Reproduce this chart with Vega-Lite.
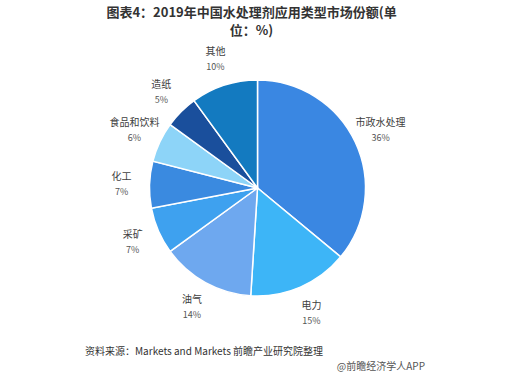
{
  "$schema": "https://vega.github.io/schema/vega-lite/v6.json",
  "background": "white",
  "padding": {"left": 5, "top": 7, "right": 0, "bottom": 0},
  "config": {"view": {"stroke": null}, "font": "Noto Sans CJK SC", "concat": {"spacing": 0}},
  "title": {"text": "@前瞻经济学人APP", "orient": "bottom", "anchor": "end", "frame": "group", "dx": -85, "fontSize": 10, "fontWeight": "normal", "color": "#555555", "offset": 5},
  "vconcat": [
    {
      "title": {"text": "资料来源：Markets and Markets 前瞻产业研究院整理", "orient": "bottom", "anchor": "start", "frame": "group", "dx": 80, "fontSize": 10, "fontWeight": "normal", "color": "#333333", "offset": 15},
      "vconcat": [
        {
          "width": 505,
          "height": 288,
          "title": {"text": "图表4：2019年中国水处理剂应用类型市场份额(单", "subtitle": "位：%)", "fontSize": 13, "fontWeight": "bold", "color": "#333333", "subtitleFontSize": 13, "subtitleFontWeight": "bold", "subtitleColor": "#333333", "subtitlePadding": 5, "dx": -6, "offset": 6},
          "data": {"values": [
            {"name": "市政水处理", "value": 36, "order": 1},
            {"name": "电力", "value": 15, "order": 2},
            {"name": "油气", "value": 14, "order": 3},
            {"name": "采矿", "value": 7, "order": 4},
            {"name": "化工", "value": 7, "order": 5},
            {"name": "食品和饮料", "value": 6, "order": 6},
            {"name": "造纸", "value": 5, "order": 7},
            {"name": "其他", "value": 10, "order": 8}
          ]},
          "transform": [{"calculate": "datum.value + '%'", "as": "pct"}],
          "encoding": {
            "theta": {"field": "value", "type": "quantitative", "stack": true},
            "order": {"field": "order", "type": "quantitative"}
          },
          "layer": [
            {
              "mark": {"type": "arc", "outerRadius": 108, "stroke": "white", "strokeWidth": 1.5},
              "encoding": {
                "color": {"field": "name", "type": "nominal", "legend": null,
                  "scale": {"domain": ["市政水处理", "电力", "油气", "采矿", "化工", "食品和饮料", "造纸", "其他"],
                            "range": ["#3a87e2", "#3db5f7", "#6ea8ef", "#3ea1ef", "#3a8ae0", "#8dd4f8", "#1a4f9c", "#137ac0"]}}
              }
            },
            {
              "mark": {"type": "text", "radius": 136, "dy": -7, "fontSize": 10, "color": "#404040"},
              "encoding": {"text": {"field": "name", "type": "nominal"}}
            },
            {
              "mark": {"type": "text", "radius": 136, "dy": 8, "fontSize": 9, "color": "#555555"},
              "encoding": {"text": {"field": "pct", "type": "nominal"}}
            }
          ]
        }
      ]
    }
  ]
}
